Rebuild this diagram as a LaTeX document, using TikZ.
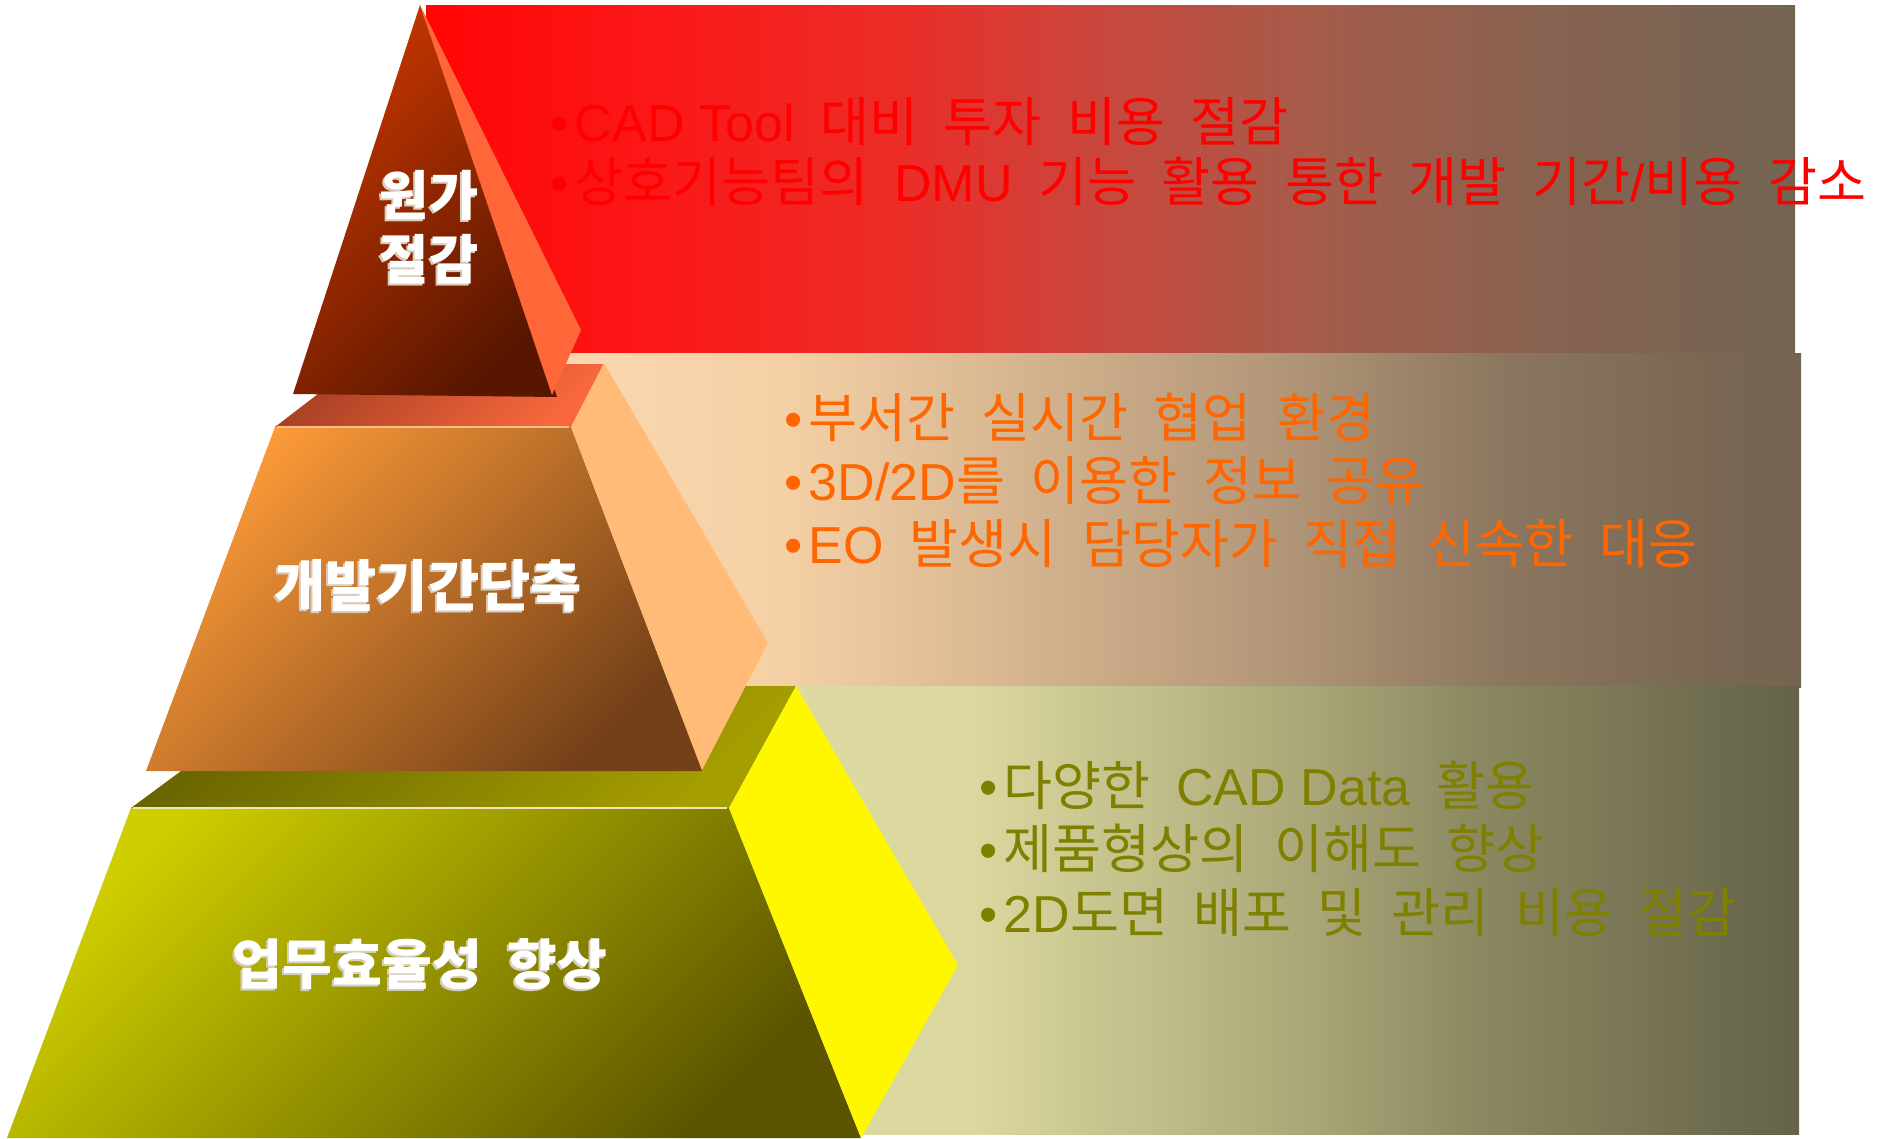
\documentclass[tikz,border=0pt]{standalone}
\usepackage{fontspec}
\setmainfont{Noto Sans CJK KR}
\newfontfamily\krfont{Noto Sans CJK KR}
\newfontfamily\latfont{Liberation Sans}
% band colours
\definecolor{rb0}{RGB}{255,5,5}
\definecolor{rb1}{RGB}{252,22,22}
\definecolor{rb2}{RGB}{235,45,40}
\definecolor{rb3}{RGB}{200,72,62}
\definecolor{rb4}{RGB}{165,92,75}
\definecolor{rb5}{RGB}{135,98,80}
\definecolor{rb6}{RGB}{115,100,82}
\definecolor{pb0}{RGB}{250,216,176}
\definecolor{pb1}{RGB}{245,208,165}
\definecolor{pb2}{RGB}{178,150,120}
\definecolor{pb3}{RGB}{140,118,95}
\definecolor{pb4}{RGB}{120,102,82}
\definecolor{pb5}{RGB}{116,100,80}
\definecolor{ob0}{RGB}{222,220,162}
\definecolor{ob1}{RGB}{218,216,158}
\definecolor{ob2}{RGB}{168,166,118}
\definecolor{ob3}{RGB}{140,138,98}
\definecolor{ob4}{RGB}{100,98,72}
% pyramid colours
\definecolor{tfA}{RGB}{200,55,0}
\definecolor{tfB}{RGB}{88,22,0}
\definecolor{tside}{RGB}{255,102,56}
\definecolor{mtA}{RGB}{168,64,36}
\definecolor{mtB}{RGB}{248,104,60}
\definecolor{mfA}{RGB}{252,154,56}
\definecolor{mfB}{RGB}{116,64,24}
\definecolor{mside}{RGB}{255,187,119}
\definecolor{mline}{RGB}{250,190,140}
\definecolor{btA}{RGB}{104,100,0}
\definecolor{btB}{RGB}{165,158,0}
\definecolor{bfA}{RGB}{206,206,0}
\definecolor{bfB}{RGB}{90,84,0}
\definecolor{bside}{RGB}{255,247,0}
\definecolor{bline}{RGB}{235,232,180}
\definecolor{labshadow}{RGB}{215,205,190}
\definecolor{txtred}{RGB}{255,0,0}
\definecolor{txtorange}{RGB}{255,102,0}
\definecolor{txtolive}{RGB}{128,128,0}
% the path's bounding box maps to 25bp..75bp of a shading
\pgfdeclarehorizontalshading{redband}{100bp}{color(0bp)=(rb0); color(25bp)=(rb0); color(32.5bp)=(rb1); color(42.5bp)=(rb2); color(50bp)=(rb3); color(57.5bp)=(rb4); color(66bp)=(rb5); color(75bp)=(rb6); color(100bp)=(rb6)}
\pgfdeclarehorizontalshading{peachband}{100bp}{color(0bp)=(pb0); color(25bp)=(pb0); color(34bp)=(pb1); color(54bp)=(pb2); color(63bp)=(pb3); color(72bp)=(pb4); color(75bp)=(pb5); color(100bp)=(pb5)}
\pgfdeclarehorizontalshading{oliveband}{100bp}{color(0bp)=(ob0); color(25bp)=(ob0); color(37.5bp)=(ob1); color(53bp)=(ob2); color(60bp)=(ob3); color(75bp)=(ob4); color(100bp)=(ob4)}
\newcommand\latn[1]{{\latfont\fontsize{20.8}{24}\selectfont\spaceskip=0pt\relax #1}}
\newcommand\bul{{\latfont\fontsize{20.8}{24}\selectfont •}\hspace{2.5pt}}
\newcommand\shtext[1]{\makebox[0pt][l]{\hspace{-0.8pt}\raisebox{-0.8pt}{\color{labshadow}#1}}#1}
\tikzset{
  bandtext/.style={anchor=base west, inner sep=0pt,
    font={\krfont\fontsize{21.3}{24}\selectfont\spaceskip=10.2pt\relax}},
  pyrlabel/.style={inner sep=0pt, text=white, align=center},
}
\begin{document}
\begin{tikzpicture}[x=0.4pt,y=-0.4pt]
\useasboundingbox (0,0) rectangle (1883,1138);
% background bands
\shade[shading=redband] (426,6) rectangle (1795,353);
\shade[shading=peachband] (560,353) rectangle (1801,687);
\shade[shading=oliveband] (700,686) rectangle (1799,1134);
% bottom tier
\shade[top color=btA, bottom color=btB, shading angle=45] (131,808) -- (296,686) -- (796,686) -- (729,808) -- cycle;
\shade[top color=bfA, bottom color=bfB, shading angle=45] (131,808) -- (729,808) -- (861,1138) -- (7,1138) -- cycle;
\fill[bside] (729,808) -- (796,686) -- (958,965) -- (861,1138) -- cycle;
\draw[bline, line width=0.6pt] (133,808) -- (727,808);
% middle tier
\shade[top color=mtA, bottom color=mtB, shading angle=45] (275,427) -- (357,364) -- (604,364) -- (571,427) -- cycle;
\shade[top color=mfA, bottom color=mfB, shading angle=45] (275,427) -- (571,427) -- (702,771) -- (146,771) -- cycle;
\fill[mside] (571,427) -- (604,363) -- (768,643) -- (702,770) -- cycle;
\draw[mline, line width=0.6pt] (277,427) -- (569,427);
% top tier
\shade[top color=tfA, bottom color=tfB, shading angle=45] (420,5) -- (557,397) -- (293,394) -- cycle;
\fill[tside] (420,5) -- (581,330) -- (552,395) -- cycle;
% pyramid labels
\node[pyrlabel, font={\krfont\bfseries\fontsize{21.4}{25.6}\selectfont}] (lab1) at (429,228.5) {\shtext{원가}\\\shtext{절감}};
\node[pyrlabel, font={\krfont\bfseries\fontsize{22.3}{24}\selectfont}] (lab2) at (428,586.5) {\shtext{개발기간단축}};
\node[pyrlabel, font={\krfont\bfseries\fontsize{21.7}{24}\selectfont\spaceskip=10pt\relax}] (lab3) at (420,965.5) {\shtext{업무효율성 향상}};
% band texts
\node[bandtext, text=txtred] (r1) at (550,142) {\bul\latn{CAD Tool} 대비 투자 비용 절감};
\node[bandtext, text=txtred] (r2) at (550,202) {\bul 상호기능팀의 \latn{DMU} 기능 활용 통한 개발 기간\latn{/}비용 감소};
\node[bandtext, text=txtorange] (p1) at (784,437) {\bul 부서간 실시간 협업 환경};
\node[bandtext, text=txtorange] (p2) at (784,500) {\bul\latn{3D/2D}를 이용한 정보 공유};
\node[bandtext, text=txtorange] (p3) at (784,563) {\bul\latn{EO} 발생시 담당자가 직접 신속한 대응};
\node[bandtext, text=txtolive] (o1) at (979,805) {\bul 다양한 \latn{CAD Data} 활용};
\node[bandtext, text=txtolive] (o2) at (979,868) {\bul 제품형상의 이해도 향상};
\node[bandtext, text=txtolive] (o3) at (979,932) {\bul\latn{2D}도면 배포 및 관리 비용 절감};
\end{tikzpicture}
\end{document}
